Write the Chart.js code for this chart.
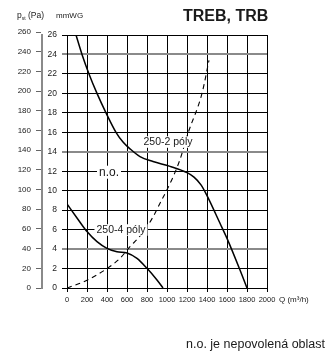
<!DOCTYPE html>
<html>
<head>
<meta charset="utf-8">
<script src="https://cdn.jsdelivr.net/npm/chart.js@4"></script>
<style>
  html, body { margin: 0; padding: 0; background: #fff; }
  #wrap { position: relative; width: 327px; height: 354px; overflow: hidden; }
  #chart { position: absolute; left: 0; top: 0; }
  .txt { position: absolute; white-space: nowrap; line-height: 1; color: #1a1a1a;
         font-family: 'Liberation Sans', Arial, sans-serif; }
</style>
</head>
<body>
<div id="wrap">
  <canvas id="chart" width="327" height="354"></canvas>
  <div class="txt" style="left:17px;top:11px;font-size:8.5px;">p<span style="font-size:5px;vertical-align:-2px;">st</span> (Pa)</div>
  <div class="txt" style="left:56px;top:12px;font-size:8px;">mmWG</div>
  <div class="txt" style="left:183px;top:8px;font-size:16px;font-weight:bold;">TREB, TRB</div>
  <div class="txt" style="left:279px;top:296px;font-size:8px;">Q (m³/h)</div>
  <div class="txt" style="left:186px;top:338px;font-size:12.5px;">n.o. je nepovolená oblast</div>
</div>
<script>
// Osa X – průtok Q (m3/h)
const qTicks = [0, 200, 400, 600, 800, 1000, 1200, 1400, 1600, 1800, 2000];
// Osa Y – tlak v mmWG a v Pa
const mmTicks = [0, 2, 4, 6, 8, 10, 12, 14, 16, 18, 20, 22, 24, 26];
const paTicks = [0, 20, 40, 60, 80, 100, 120, 140, 160, 180, 200, 220, 240, 260];

// 250-2 póly
const q2 = [90, 150, 220, 300, 390, 490, 560, 630, 730, 860, 1030, 1200, 1270, 1340, 1400, 1530, 1600, 1730, 1800];
const p2 = [26, 24, 22, 20, 18, 16, 15, 14.3, 13.5, 13.0, 12.5, 11.85, 11.4, 10.6, 9.5, 6.65, 5.1, 1.85, 0];

// 250-4 póly
const q4 = [0, 100, 200, 300, 400, 500, 600, 700, 800, 900, 960];
const p4 = [8.63, 7.2, 5.8, 4.76, 4.07, 3.73, 3.6, 3.05, 2.02, 0.82, 0];

// hranice nepovolené oblasti (čárkovaně)
const qSys = [0, 200, 400, 530, 630, 710, 800, 860, 930, 1000, 1060, 1130, 1210, 1350, 1420];
const pSys = [0, 0.8, 2.0, 3.05, 4.25, 5.1, 6.3, 7.3, 8.7, 10.1, 11.4, 13.2, 15.9, 20.0, 23.4];

// popisky v grafu (souřadnice v jednotkách os)
const notes = [
  { text: 'n.o.', q: 420, p: 11.9, size: 12 },
  { text: '250-2 póly', q: 1010, p: 15.0, size: 10.5 },
  { text: '250-4 póly', q: 540, p: 5.96, size: 10.5 }
];

const FONT = "'Liberation Sans', Arial, sans-serif";
const toXY = (xs, ys) => xs.map((x, i) => ({ x: x, y: ys[i] }));
const setTicks = list => scale => { scale.ticks = list.map(v => ({ value: v })); };
const plain = v => String(v);
const greyRows = [24, 14, 4];

const notePlugin = {
  id: 'notes',
  afterDatasetsDraw(chart) {
    const c = chart.ctx;
    const xs = chart.scales.x, ys = chart.scales.y;
    c.save();
    c.textAlign = 'center';
    c.textBaseline = 'middle';
    notes.forEach(n => {
      const x = xs.getPixelForValue(n.q);
      const y = ys.getPixelForValue(n.p);
      c.font = n.size + 'px ' + FONT;
      const w = c.measureText(n.text).width + 4;
      const h = n.size + 1;
      c.fillStyle = '#fff';
      c.fillRect(x - w / 2, y - h / 2, w, h);
      c.fillStyle = '#1a1a1a';
      c.fillText(n.text, x, y + 0.5);
    });
    c.restore();
  }
};

new Chart(document.getElementById('chart'), {
  type: 'scatter',
  data: {
    datasets: [
      { label: '250-2 póly', data: toXY(q2, p2), showLine: true, borderColor: '#000',
        borderWidth: 1.5, pointRadius: 0, cubicInterpolationMode: 'monotone' },
      { label: '250-4 póly', data: toXY(q4, p4), showLine: true, borderColor: '#000',
        borderWidth: 1.5, pointRadius: 0, cubicInterpolationMode: 'monotone' },
      { label: 'n.o.', data: toXY(qSys, pSys), showLine: true, borderColor: '#000',
        borderWidth: 1.1, borderDash: [5, 4], pointRadius: 0, cubicInterpolationMode: 'monotone' }
    ]
  },
  options: {
    responsive: false,
    animation: false,
    devicePixelRatio: 1,
    layout: { padding: { left: 0, right: 60, top: 35, bottom: 46 } },
    plugins: { legend: { display: false }, tooltip: { enabled: false } },
    scales: {
      x: {
        type: 'linear', position: 'bottom', min: 0, max: 2000,
        afterBuildTicks: setTicks(qTicks),
        afterFit: s => { s.height = 20; },
        grid: { color: '#000', lineWidth: 1, tickLength: 4 },
        border: { color: '#000', width: 1 },
        ticks: { autoSkip: false, maxRotation: 0, padding: 3, color: '#222', callback: plain,
                 font: { family: FONT, size: 7.5 } }
      },
      y: {
        type: 'linear', position: 'left', weight: 1, min: 0, max: 26,
        afterBuildTicks: setTicks(mmTicks),
        afterFit: s => { s.width = 25; },
        grid: {
          color: ctx => greyRows.includes(ctx.tick && ctx.tick.value) ? '#8a8a8a' : '#000',
          lineWidth: ctx => greyRows.includes(ctx.tick && ctx.tick.value) ? 2 : 1,
          tickLength: 5
        },
        border: { color: '#000', width: 1 },
        ticks: { autoSkip: false, padding: 5, color: '#222', callback: plain,
                 font: { family: FONT, size: 8.5 } }
      },
      pa: {
        type: 'linear', position: 'left', weight: 2, min: 0, max: 257,
        afterBuildTicks: setTicks(paTicks),
        afterFit: s => { s.width = 42; },
        grid: { drawOnChartArea: false, color: '#666', lineWidth: 1, tickLength: 6 },
        border: { color: '#8a8a8a', width: 2 },
        ticks: { autoSkip: false, padding: 5, color: '#222', callback: plain,
                 font: { family: FONT, size: 8 } }
      }
    }
  },
  plugins: [notePlugin]
});
</script>
</body>
</html>
